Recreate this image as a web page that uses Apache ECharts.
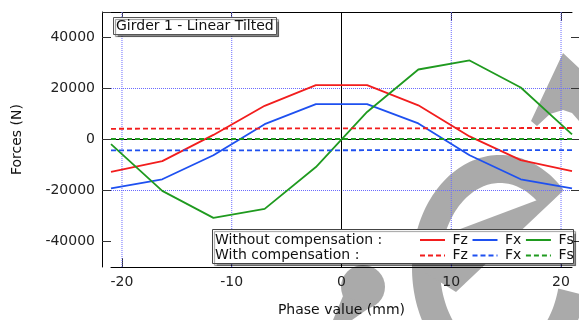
<!DOCTYPE html>
<html><head><meta charset="utf-8">
<script src="https://cdn.jsdelivr.net/npm/echarts@6/dist/echarts.min.js"></script>
<style>html,body{margin:0;padding:0;background:#fff}#c{width:579px;height:320px}</style>
</head><body><div id="c"></div>
<script>
// ---- data ----
const phase = [-21, -16.33, -11.67, -7, -2.33, 2.33, 7, 11.67, 16.33, 21];
const fzWithout = [-12700, -8500, 1800, 13200, 21300, 21300, 13400, 1200, -8100, -12400];
const fxWithout = [-19200, -15600, -6200, 6000, 13850, 13850, 6300, -6200, -15600, -19200];
const fsWithout = [-1800, -20150, -30750, -27200, -10800, 10800, 27450, 31000, 20400, 2000];
const fzWith = [4200, 4250, 4300, 4300, 4350, 4400, 4400, 4450, 4500, 4500];
const fxWith = [-4300, -4300, -4300, -4250, -4250, -4200, -4200, -4200, -4200, -4200];
const fsWith = [200, 200, 200, 200, 200, 200, 200, 200, 200, 200];
const xTicks = [-20, -10, 0, 10, 20];
const yTicks = [-40000, -20000, 0, 20000, 40000];
const xRange = [-21, 21];
const yRange = [-50000, 50000];
const titleText = 'Girder 1 - Linear Tilted';
const rowLabels = ['Without compensation :', 'With compensation :'];

const FONT = 'DejaVu Sans';
const RED = '#f21d1d', BLUE = '#1e50f0', GREEN = '#1f9a1f';
const GRIDC = '#6a6aff';
const WM = '#aaaaaa';

function pts(arr) { return phase.map((x, i) => [x, arr[i]]); }
function line(name, arr, color, dashed) {
  return {
    name: name, type: 'line', data: pts(arr), symbol: 'none', showSymbol: false,
    lineStyle: { color: color, width: 1.8, type: dashed ? [5, 3] : 'solid' },
    itemStyle: { color: color }, z: 3, animation: false
  };
}
// reference lines (grid and zero lines) drawn through the axes' own scales
function refLine(points, color, type, z) {
  return {
    type: 'line', data: points, symbol: 'none', silent: true, z: z, animation: false,
    lineStyle: { color: color, width: 1, type: type }, itemStyle: { color: color },
    emphasis: { disabled: true }, tooltip: { show: false }
  };
}
const gridSeries = []
  .concat(xTicks.filter(v => v !== 0).map(v => refLine([[v, yRange[0]], [v, yRange[1]]], GRIDC, [1, 1], 1)))
  .concat([refLine([[0, yRange[0]], [0, yRange[1]]], '#000', 'solid', 2),
           refLine([[xRange[0], 0], [xRange[1], 0]], '#000', 'solid', 2)]);
const plain = v => String(v);

// ---- background watermark shape (decoration, not data) ----
function watermark() {
  const cx = 500, cy = 268, rx = 88, ry = 113, sw = 28;
  const ring = [];
  const a0 = 14, a1 = 316;
  for (let a = a0; a <= a1; a += 2) {
    const t = a * Math.PI / 180;
    ring.push([cx + rx * Math.cos(t), cy + ry * Math.sin(t)]);
  }
  for (let a = a1; a >= a0; a -= 2) {
    const t = a * Math.PI / 180;
    ring.push([cx + (rx - sw) * Math.cos(t), cy + (ry - sw) * Math.sin(t)]);
  }
  const bar = [[564, 190], [456, 292], [424, 272], [431, 240]];
  return [
    { type: 'polygon', z: -10, silent: true, shape: { points: ring }, style: { fill: WM } },
    { type: 'polygon', z: -10, silent: true, shape: { points: bar }, style: { fill: WM } },
    { type: 'polygon', z: -10, silent: true,
      shape: { points: [[563, 53], [579, 68], [579, 121], [572, 113], [563, 110], [550, 114], [537, 126], [531, 121]] },
      style: { fill: WM } },
    { type: 'circle', z: -10, silent: true, shape: { cx: 363, cy: 287, r: 22 }, style: { fill: WM } },
    { type: 'polygon', z: -10, silent: true, shape: { points: [[343, 296], [333, 320], [352, 320], [372, 306]] }, style: { fill: WM } }
  ];
}

const chart = echarts.init(document.getElementById('c'), null, { renderer: 'canvas' });
const legendCommon = {
  left: 419, width: 200, itemWidth: 25, itemHeight: 14, itemGap: 3.6, padding: 0, z: 12,
  selectedMode: false, formatter: n => n.trim(),
  itemStyle: { color: 'rgba(0,0,0,0)', borderColor: 'rgba(0,0,0,0)', borderWidth: 0, opacity: 0 },
  textStyle: { fontSize: 14, color: '#111', fontFamily: FONT, padding: [0, 0, 0, 2.5] }
};

chart.setOption({
  animation: false,
  textStyle: { fontFamily: FONT },
  title: {
    text: titleText, left: 113, top: 17, padding: [2, 3, 2, 3],
    backgroundColor: '#fff', borderColor: '#555', borderWidth: 1,
    shadowColor: 'rgba(0,0,0,0.45)', shadowOffsetX: 2, shadowOffsetY: 2, shadowBlur: 1,
    textStyle: { fontSize: 14, fontWeight: 'normal', color: '#111', fontFamily: FONT }
  },
  grid: { left: 111, right: 7, top: 12, bottom: 53, outerBoundsMode: 'none', containLabel: false },
  legend: [
    Object.assign({ data: ['Fz', 'Fx', 'Fs'], top: 233 }, legendCommon),
    Object.assign({ data: ['Fz ', 'Fx ', 'Fs '], top: 248.5 }, legendCommon)
  ],
  xAxis: [{
    type: 'value', min: xRange[0], max: xRange[1], position: 'bottom',
    name: 'Phase value (mm)', nameLocation: 'middle', nameGap: 36,
    nameTextStyle: { fontSize: 14, color: '#111', fontFamily: FONT },
    axisLine: { onZero: false, lineStyle: { color: '#000', width: 1 } },
    axisTick: { inside: true, length: 9, customValues: xTicks, lineStyle: { color: '#333' } },
    axisLabel: { customValues: xTicks, formatter: plain, margin: 8, fontSize: 14, color: '#222', fontFamily: FONT },
    splitLine: { show: false }, minorSplitLine: { show: false }
  }, {
    type: 'value', min: xRange[0], max: xRange[1], position: 'top',
    axisLine: { onZero: false, lineStyle: { color: '#000', width: 1 } },
    axisTick: { inside: true, length: 9, customValues: xTicks, lineStyle: { color: '#333' } },
    axisLabel: { show: false }, splitLine: { show: false }, minorSplitLine: { show: false }
  }],
  yAxis: [{
    type: 'value', min: yRange[0], max: yRange[1], position: 'left', offset: 9,
    name: 'Forces (N)', nameLocation: 'middle', nameGap: 78,
    nameTextStyle: { fontSize: 14, color: '#111', fontFamily: FONT },
    axisLine: { show: true, onZero: false, lineStyle: { color: '#000', width: 1 } },
    axisTick: { show: true, inside: true, length: 9, customValues: yTicks.concat([yRange[1]]), lineStyle: { color: '#333' } },
    axisLabel: { customValues: yTicks, formatter: plain, margin: 7, fontSize: 14, color: '#222', fontFamily: FONT },
    splitLine: { show: false }, minorSplitLine: { show: false }
  }, {
    type: 'value', min: yRange[0], max: yRange[1], position: 'right', offset: 9,
    axisLine: { show: true, onZero: false, lineStyle: { color: GRIDC, width: 1 } },
    axisTick: { show: true, inside: true, length: 10, customValues: yTicks, lineStyle: { color: '#333' } },
    axisLabel: { show: false },
    splitLine: { show: true, showMinLine: false, showMaxLine: false,
                 lineStyle: { color: [GRIDC], type: [1, 1], width: 1, opacity: 1 } },
    minorSplitLine: { show: false }
  }],
  series: gridSeries.concat([
    line('Fz', fzWithout, RED, false),
    line('Fx', fxWithout, BLUE, false),
    line('Fs', fsWithout, GREEN, false),
    line('Fz ', fzWith, RED, true),
    line('Fx ', fxWith, BLUE, true),
    line('Fs ', fsWith, GREEN, true)
  ]),
  graphic: watermark().concat([
    { type: 'rect', z: 8, silent: true, shape: { x: 212.5, y: 229.5, width: 361, height: 34 },
      style: { fill: '#fff', stroke: '#444', lineWidth: 1, shadowColor: 'rgba(0,0,0,0.4)', shadowOffsetX: 2, shadowOffsetY: 2, shadowBlur: 1 } },
    { type: 'text', z: 11, x: 215, y: 240, silent: true,
      style: { text: rowLabels[0], font: '14px "DejaVu Sans"', fill: '#111', verticalAlign: 'middle', textVerticalAlign: 'middle' } },
    { type: 'text', z: 11, x: 215, y: 255.5, silent: true,
      style: { text: rowLabels[1], font: '14px "DejaVu Sans"', fill: '#111', verticalAlign: 'middle', textVerticalAlign: 'middle' } }
  ])
});
</script></body></html>
